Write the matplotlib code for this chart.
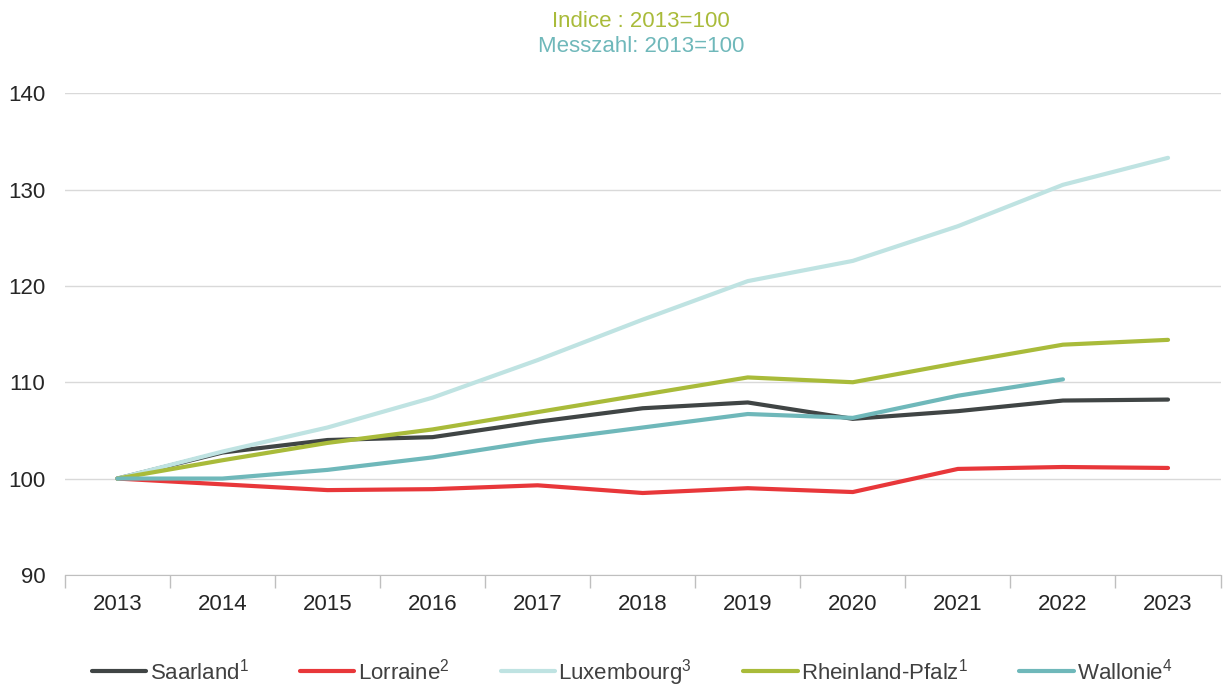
import numpy as np
import matplotlib.pyplot as plt

plt.rcParams['font.family'] = ['Liberation Sans', 'DejaVu Sans']
plt.rcParams['mathtext.fontset'] = 'custom'
plt.rcParams['mathtext.rm'] = 'Liberation Sans'
plt.rcParams['mathtext.default'] = 'rm'

years = ["2013", "2014", "2015", "2016", "2017", "2018", "2019", "2020", "2021", "2022", "2023"]

saarland   = [100, 102.7, 104.0, 104.3, 105.9, 107.3, 107.9, 106.2, 107.0, 108.1, 108.2]
lorraine   = [100, 99.4, 98.8, 98.9, 99.3, 98.5, 99.0, 98.6, 101.0, 101.2, 101.1]
luxembourg = [100, 102.8, 105.3, 108.4, 112.3, 116.5, 120.5, 122.6, 126.2, 130.5, 133.3]
rlp        = [100, 101.9, 103.7, 105.1, 106.9, 108.7, 110.5, 110.0, 112.0, 113.9, 114.4]
wallonie   = [100, 100.0, 100.9, 102.2, 103.9, 105.3, 106.7, 106.3, 108.6, 110.3]

series = [
    (saarland, "Saarland$^1$", "#404545"),
    (lorraine, "Lorraine$^2$", "#e8373a"),
    (luxembourg, "Luxembourg$^3$", "#bfe3e2"),
    (rlp, "Rheinland-Pfalz$^1$", "#a9bb3a"),
    (wallonie, "Wallonie$^4$", "#6fb8ba"),
]

fig = plt.figure(figsize=(12.23, 6.86), dpi=100)
ax = fig.add_axes([0.053, 0.162, 0.945, 0.702])

x = np.arange(len(years))
for vals, lab, col in series:
    ax.plot(x[:len(vals)], vals, color=col, lw=3, label=lab, solid_capstyle='round')

ax.set_xlim(-0.5, len(years) - 0.5)
ax.set_ylim(90, 140)
ax.set_yticks(range(90, 141, 10))
ax.yaxis.grid(True, color="#d9d9d9", lw=1)
ax.set_axisbelow(True)

ax.set_xticks(x)
ax.set_xticklabels(years)
ax.set_xticks(np.arange(-0.5, len(years)), minor=True)
ax.tick_params(axis='x', which='major', length=0, pad=14, labelsize=16, labelcolor="#262626")
ax.tick_params(axis='x', which='minor', length=9, color="#bfbfbf", width=1)
ax.tick_params(axis='y', length=0, pad=14, labelsize=16, labelcolor="#262626")

for s in ['top', 'right', 'left']:
    ax.spines[s].set_visible(False)
ax.spines['bottom'].set_color("#bfbfbf")

fig.text(0.524, 0.968, "Indice : 2013=100", color="#a9bb3a", fontsize=16, ha='center', va='center')
fig.text(0.524, 0.932, "Messzahl: 2013=100", color="#6fb8ba", fontsize=16, ha='center', va='center')

leg = fig.legend(loc='center', bbox_to_anchor=(0.517, 0.02), ncol=5, frameon=False,
                 fontsize=16, handlelength=2.45, handletextpad=0.15, columnspacing=2.3)
for t in leg.get_texts():
    t.set_color("#404040")
for h in leg.get_lines():
    h.set_linewidth(3)

fig.savefig("out.png", dpi=100)
